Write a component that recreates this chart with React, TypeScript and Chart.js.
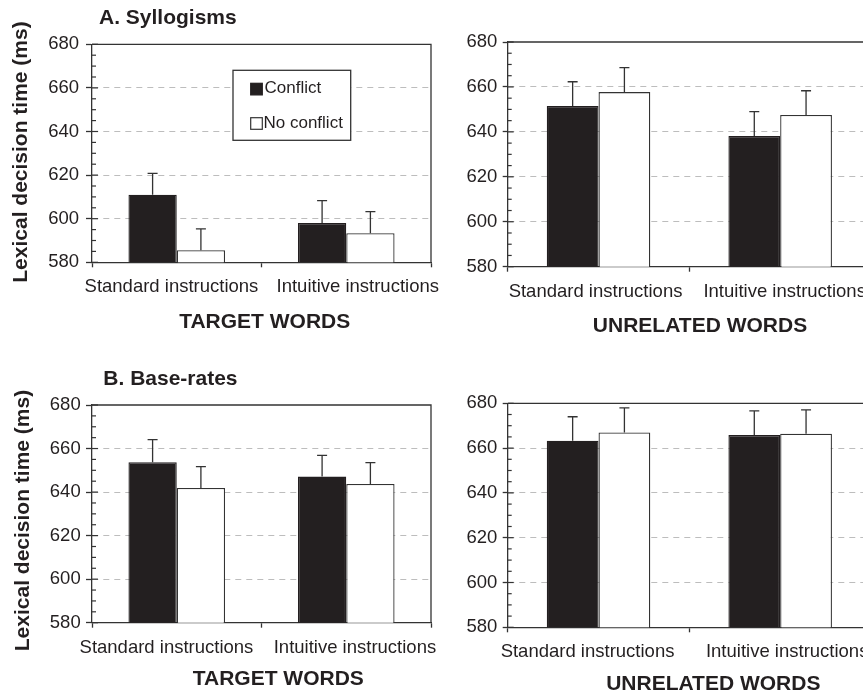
import React, { useEffect, useRef } from 'react';
import { Chart, registerables } from 'chart.js';

Chart.register(...registerables);

// ---------- data ----------
const categories = ['Standard instructions', 'Intuitive instructions'];
const seriesNames = ['Conflict', 'No conflict'];
const yTickValues = [580, 600, 620, 640, 660, 680];
const yMinorStep = 5;

const sylTargetConflict = [611.0, 598.0];
const sylTargetConflictErr = [9.8, 10.3];
const sylTargetNoConflict = [585.5, 593.3];
const sylTargetNoConflictErr = [9.8, 9.9];

const sylUnrelatedConflict = [651.5, 638.2];
const sylUnrelatedConflictErr = [10.8, 10.8];
const sylUnrelatedNoConflict = [657.7, 647.5];
const sylUnrelatedNoConflictErr = [10.9, 10.8];

const baseTargetConflict = [653.7, 647.1];
const baseTargetConflictErr = [10.4, 9.8];
const baseTargetNoConflict = [641.9, 643.7];
const baseTargetNoConflictErr = [9.8, 9.8];

const baseUnrelatedConflict = [663.3, 665.8];
const baseUnrelatedConflictErr = [10.7, 10.8];
const baseUnrelatedNoConflict = [667.0, 666.4];
const baseUnrelatedNoConflictErr = [11.0, 10.7];

const panelTitles = ['A. Syllogisms', 'B. Base-rates'];
const yAxisTitle = 'Lexical decision time (ms)';
const xAxisTitles = ['TARGET WORDS', 'UNRELATED WORDS'];

// ---------- styling / layout ----------
const FONT = "'Liberation Sans', Arial, Helvetica, sans-serif";
const INK = '#231f20';
const AX = '#333333';
const BAR_DARK = '#231f20';

type Spec = {
  left: number; top: number; width: number; height: number;
  area: { l: number; r: number; t: number; b: number };
  tickLen: number; yPad: number; labelDx: number[];
  title?: { text: string; x: number; y: number };
  yTitle?: { x: number; y: number };
  xTitle: { text: string; cx: number; y: number };
  legend?: boolean;
  conflict: number[]; conflictErr: number[];
  noConflict: number[]; noConflictErr: number[];
};

const specs: Spec[] = [
  {
    left: 0, top: 0, width: 440, height: 345,
    area: { l: 92, r: 431, t: 44.3, b: 262.3 },
    tickLen: 6, yPad: 7, labelDx: [-5.3, 11.5],
    title: { text: panelTitles[0], x: 99, y: 24 },
    yTitle: { x: 26.7, y: 152 },
    xTitle: { text: xAxisTitles[0], cx: 264.7, y: 327.7 },
    legend: true,
    conflict: sylTargetConflict, conflictErr: sylTargetConflictErr,
    noConflict: sylTargetNoConflict, noConflictErr: sylTargetNoConflictErr,
  },
  {
    left: 440, top: 0, width: 440, height: 345,
    area: { l: 67.7, r: 431, t: 42, b: 266.7 },
    tickLen: 5, yPad: 5.4, labelDx: [-3, 4.5],
    xTitle: { text: xAxisTitles[1], cx: 260, y: 331.7 },
    conflict: sylUnrelatedConflict, conflictErr: sylUnrelatedConflictErr,
    noConflict: sylUnrelatedNoConflict, noConflictErr: sylUnrelatedNoConflictErr,
  },
  {
    left: 0, top: 345, width: 440, height: 347,
    area: { l: 92, r: 431, t: 60, b: 277.7 },
    tickLen: 6, yPad: 5.3, labelDx: [-10.3, 8.7],
    title: { text: panelTitles[1], x: 103.3, y: 40 },
    yTitle: { x: 29.3, y: 175.5 },
    xTitle: { text: xAxisTitles[0], cx: 278.3, y: 340 },
    conflict: baseTargetConflict, conflictErr: baseTargetConflictErr,
    noConflict: baseTargetNoConflict, noConflictErr: baseTargetNoConflictErr,
  },
  {
    left: 440, top: 345, width: 440, height: 347,
    area: { l: 67.7, r: 431, t: 58.3, b: 282.3 },
    tickLen: 5, yPad: 5.4, labelDx: [-11, 7],
    xTitle: { text: xAxisTitles[1], cx: 273.3, y: 345 },
    conflict: baseUnrelatedConflict, conflictErr: baseUnrelatedConflictErr,
    noConflict: baseUnrelatedNoConflict, noConflictErr: baseUnrelatedNoConflictErr,
  },
];

function Panel({ spec }: { spec: Spec }) {
  const ref = useRef<HTMLCanvasElement>(null);

  useEffect(() => {
    const s = spec;
    const errs = [s.conflictErr, s.noConflictErr];
    const yMin = yTickValues[0];
    const yMax = yTickValues[yTickValues.length - 1];
    const yStep = yTickValues[1] - yTickValues[0];

    const decor = {
      id: 'panelDecor',
      afterDatasetsDraw(chart: any) {
        const ctx = chart.ctx;
        const y = chart.scales.y;
        ctx.save();
        ctx.strokeStyle = AX;
        ctx.lineWidth = 1.3;
        chart.data.datasets.forEach((ds: any, di: number) => {
          const meta = chart.getDatasetMeta(di);
          meta.data.forEach((bar: any, i: number) => {
            const v = ds.data[i];
            const top = y.getPixelForValue(v + errs[di][i]);
            ctx.beginPath();
            ctx.moveTo(bar.x, bar.y);
            ctx.lineTo(bar.x, top);
            ctx.moveTo(bar.x - 5, top);
            ctx.lineTo(bar.x + 5, top);
            ctx.stroke();
          });
        });
        ctx.restore();
      },
      afterDraw(chart: any) {
        const ctx = chart.ctx;
        const a = chart.chartArea;
        const y = chart.scales.y;
        const x = chart.scales.x;
        ctx.save();
        // frame (top + right)
        ctx.strokeStyle = AX;
        ctx.lineWidth = 1.3;
        ctx.beginPath();
        ctx.moveTo(a.left, a.top);
        ctx.lineTo(a.right, a.top);
        ctx.lineTo(a.right, a.bottom);
        ctx.stroke();
        // inward tick marks (major + minor)
        ctx.lineWidth = 1.2;
        for (let v = yMin; v <= yMax; v += yMinorStep) {
          const py = y.getPixelForValue(v);
          const len = (v - yMin) % yStep === 0 ? 6 : 4;
          ctx.beginPath();
          ctx.moveTo(a.left, py);
          ctx.lineTo(a.left + len, py);
          ctx.stroke();
        }
        // category labels
        ctx.fillStyle = INK;
        ctx.font = `18.5px ${FONT}`;
        ctx.textAlign = 'center';
        ctx.textBaseline = 'alphabetic';
        categories.forEach((c, i) => {
          ctx.fillText(c, x.getPixelForValue(i) + s.labelDx[i], a.bottom + 30);
        });
        // titles
        ctx.font = `bold 21px ${FONT}`;
        ctx.textAlign = 'center';
        ctx.fillText(s.xTitle.text, s.xTitle.cx, s.xTitle.y);
        if (s.title) {
          ctx.textAlign = 'left';
          ctx.fillText(s.title.text, s.title.x, s.title.y);
        }
        if (s.yTitle) {
          ctx.save();
          ctx.translate(s.yTitle.x, s.yTitle.y);
          ctx.rotate(-Math.PI / 2);
          ctx.textAlign = 'center';
          ctx.fillText(yAxisTitle, 0, 0);
          ctx.restore();
        }
        // legend
        if (s.legend) {
          ctx.fillStyle = '#ffffff';
          ctx.fillRect(233, 70.3, 117.7, 70);
          ctx.strokeStyle = AX;
          ctx.lineWidth = 1.3;
          ctx.strokeRect(233, 70.3, 117.7, 70);
          const rows = [
            { sy: 83.3, ty: 93.3, tx: 264.5 },
            { sy: 117.7, ty: 127.7, tx: 263.5 },
          ];
          chart.data.datasets.forEach((ds: any, di: number) => {
            const r = rows[di];
            ctx.fillStyle = ds.backgroundColor;
            ctx.fillRect(250.7, r.sy, 11.6, 11.6);
            ctx.strokeStyle = ds.borderColor;
            ctx.lineWidth = 1.2;
            ctx.strokeRect(250.7, r.sy, 11.6, 11.6);
            ctx.fillStyle = INK;
            ctx.font = `17px ${FONT}`;
            ctx.textAlign = 'left';
            ctx.fillText(ds.label, r.tx, r.ty);
          });
        }
        ctx.restore();
      },
    };

    const chart = new Chart(ref.current as HTMLCanvasElement, {
      type: 'bar',
      data: {
        labels: categories,
        datasets: [
          {
            label: seriesNames[0],
            data: s.conflict,
            backgroundColor: BAR_DARK,
            borderColor: BAR_DARK,
            borderWidth: 1.3,
            categoryPercentage: 0.57,
            barPercentage: 1.0,
          },
          {
            label: seriesNames[1],
            data: s.noConflict,
            backgroundColor: '#ffffff',
            borderColor: AX,
            borderWidth: 1.3,
            categoryPercentage: 0.57,
            barPercentage: 1.0,
          },
        ],
      },
      options: {
        responsive: false,
        animation: false,
        devicePixelRatio: 1,
        layout: {
          padding: { left: 0, top: s.area.t, right: s.width - s.area.r, bottom: 0 },
        },
        plugins: {
          legend: { display: false },
          tooltip: { enabled: false },
          title: { display: false },
        },
        scales: {
          x: {
            type: 'category',
            offset: true,
            ticks: { display: false },
            grid: {
              offset: true,
              drawOnChartArea: false,
              drawTicks: true,
              tickLength: 5,
              tickColor: AX,
              tickWidth: 1.3,
              color: AX,
            },
            border: { display: true, color: AX, width: 1.3 },
            afterFit: (sc: any) => {
              sc.height = s.height - s.area.b;
            },
          },
          y: {
            min: yMin,
            max: yMax,
            ticks: {
              stepSize: yStep,
              padding: s.yPad,
              color: INK,
              font: { family: FONT, size: 18.5 },
            },
            grid: {
              color: (c: any) =>
                c.tick && (c.tick.value === yMin || c.tick.value === yMax)
                  ? 'rgba(0,0,0,0)'
                  : '#bdbdbd',
              lineWidth: 1,
              drawTicks: true,
              tickLength: s.tickLen,
              tickColor: AX,
              tickWidth: 1.3,
            },
            border: { display: true, color: AX, width: 1.3, dash: [6, 5] },
            afterFit: (sc: any) => {
              sc.width = s.area.l;
            },
          },
        },
      },
      plugins: [decor],
    } as any);

    return () => chart.destroy();
  }, [spec]);

  return (
    <canvas
      ref={ref}
      width={spec.width}
      height={spec.height}
      style={{
        position: 'absolute',
        left: spec.left,
        top: spec.top,
        width: spec.width,
        height: spec.height,
      }}
    />
  );
}

export default function App() {
  return (
    <div
      style={{
        position: 'absolute',
        left: 0,
        top: 0,
        width: 863,
        height: 692,
        overflow: 'hidden',
        background: '#ffffff',
      }}
    >
      {specs.map((sp, i) => (
        <Panel key={i} spec={sp} />
      ))}
    </div>
  );
}
